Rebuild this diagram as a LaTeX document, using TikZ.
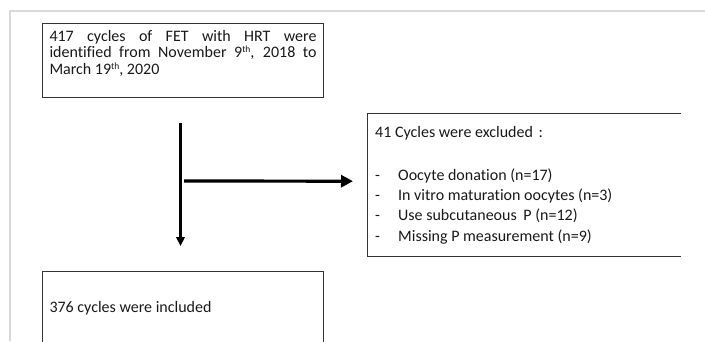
\documentclass[tikz,border=0pt]{standalone}
\usepackage{fontspec}
\setmainfont{Carlito}[Ligatures={NoCommon}]
\usetikzlibrary{arrows.meta,calc}
\newcommand{\supth}{\raisebox{5pt}{\fontsize{9.5}{9.5}\selectfont th}}
\begin{document}
\begin{tikzpicture}[x=1pt,y=-1pt,
  every node/.style={text=black!90, font=\fontsize{16}{16.7}\selectfont},
  boxstyle/.style={draw=black!80, line width=1pt, inner ysep=0pt, anchor=north west},
  varrow/.style={draw=black, line width=2.2pt, -{Triangle[length=9pt,width=8.5pt]}},
  harrow/.style={draw=black, line width=3.2pt, -{Triangle[length=12pt,width=12pt]}},
  pageedge/.style={draw=black!15, line width=1.5pt}]
\clip (0,0) rectangle (705,341);
\fill[white] (0,0) rectangle (705,341);
\draw[pageedge] (705,11) -- (10,11) -- (10,341);

\node[boxstyle, inner xsep=7pt] (a) at (42,23)
  {\parbox[t][74pt][t]{267pt}{\fontsize{16}{16.7}\selectfont\rule{0pt}{17.5pt}%
   417 cycles of FET with HRT were\linebreak
   identified from November 9\supth, 2018 to\linebreak
   March 19\supth, 2020}};

\node[anchor=north west, inner xsep=8pt, inner ysep=0pt] (b) at (367,113)
  {\parbox[t][143pt][t]{298pt}{\raggedright\fontsize{16}{20.3}\selectfont\rule{0pt}{24pt}%
   41 Cycles were excluded\hspace{2pt} :\\[22.7pt]
   \makebox[23pt][l]{-}Oocyte donation (n=17)\\
   \makebox[23pt][l]{-}In vitro maturation oocytes (n=3)\\
   \makebox[23pt][l]{-}Use subcutaneous\hspace{3pt} P (n=12)\\
   \makebox[23pt][l]{-}Missing P measurement (n=9)}};
\draw[draw=black!80, line width=1pt] (b.north east) -- (b.north west) -- (b.south west) -- (b.south east);

\node[boxstyle, inner xsep=7pt] (c) at (42,271)
  {\parbox[t][90pt][t]{267pt}{\raggedright\fontsize{16}{16.7}\selectfont\rule{0pt}{40.7pt}%
   376 cycles were included}};

\coordinate (h0) at (184,181);
\draw[varrow] ($(a.south)+(-2.5,25)$) -- ($(c.north)+(-2.5,-25)$);
\draw[harrow] (h0) -- ($(b.west)+(-14,-3.5)$);
\end{tikzpicture}
\end{document}
